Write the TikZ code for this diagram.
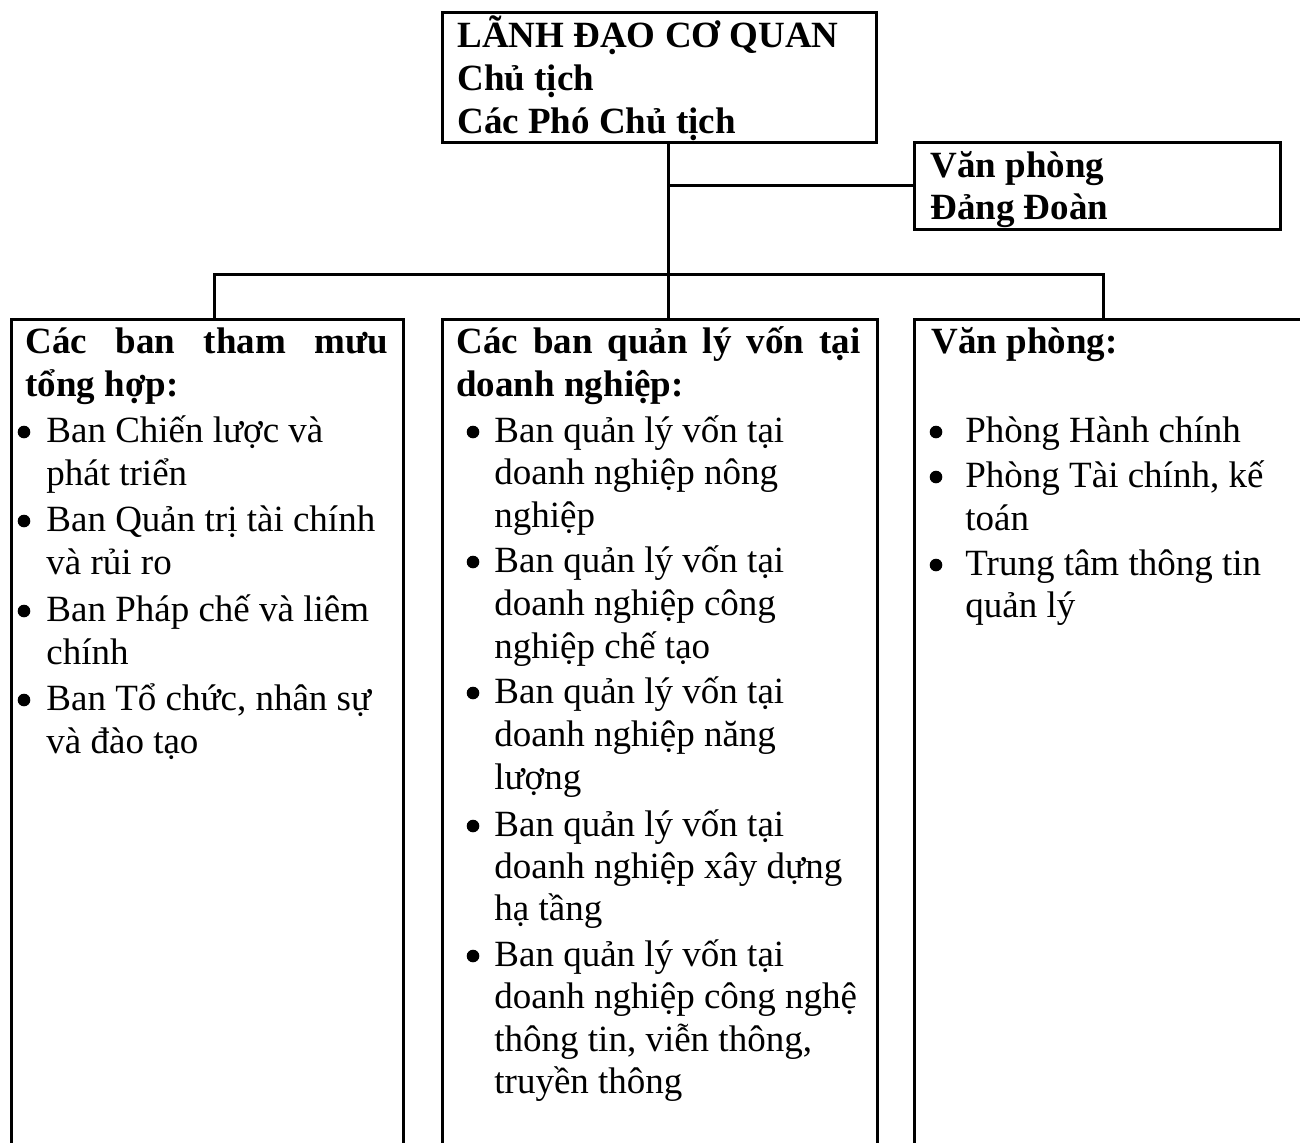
\documentclass[tikz,border=0pt]{standalone}
\usepackage{fontspec}
\setmainfont{Liberation Serif}
\usetikzlibrary{fit}
\begin{document}
\begin{tikzpicture}[x=0.5pt,y=-0.5pt,
  box/.style={draw, line width=1.5pt, inner sep=0pt, rectangle},
  wire/.style={line width=1.5pt},
  txt/.style={anchor=base west, inner sep=0pt, font=\fontsize{18.5pt}{21pt}\selectfont},
  hd/.style={anchor=base west, inner sep=0pt, font=\fontsize{18.5pt}{21pt}\selectfont\bfseries},
  bulletmark/.style={circle, fill=black, inner sep=0pt, minimum size=6.3pt}]
\useasboundingbox (0,0) rectangle (1300,1142);

% frames
\node[box, fit={(442,12) (876,142)}] (top) {};
\node[box, fit={(914,142) (1280,229)}] (dang) {};
\node[box, fit={(11,319) (403,1152)}] (left) {};
\node[box, fit={(442,319) (877,1152)}] (mid) {};
\node[box, fit={(914,319) (1322,1152)}] (right) {};

% leadership box
\node[hd] (t1) at (457,47) {LÃNH ĐẠO CƠ QUAN};
\node[hd] (t2) at (457,90) {Chủ tịch};
\node[hd] (t3) at (457,133) {Các Phó Chủ tịch};

% party office box
\node[hd] (d1) at (930,177) {Văn phòng};
\node[hd] (d2) at (930,219) {Đảng Đoàn};

% connectors
\coordinate (trunk) at (668,0);
\draw[wire] (top.south -| trunk) -- (mid.north -| trunk);
\draw[wire] (trunk |- dang.west) -- (dang.west);
\coordinate (busL) at (214,274);
\coordinate (busR) at (1103,274);
\draw[wire] (left.north -| busL) -- (busL) -- (busR) -- (right.north -| busR);

% left column
\node[hd] (lh1) at (25,353) {\makebox[181.5pt][s]{Các ban tham mưu}};
\node[hd] (lh2) at (25,396) {tổng hợp:};
\foreach \y [count=\i] in {442,531,621,710}
  \node[bulletmark] (lb\i) at (24,\y-10) {};
\foreach \y/\t [count=\i] in {442/Ban Chiến lược và, 485/phát triển,
    531/Ban Quản trị tài chính, 574/và rủi ro,
    621/Ban Pháp chế và liêm, 664/chính,
    710/{Ban Tổ chức, nhân sự}, 753/và đào tạo}
  \node[txt] (ll\i) at (46,\y) {\t};

% middle column
\node[hd] (mh1) at (456,353) {\makebox[202pt][s]{Các ban quản lý vốn tại}};
\node[hd] (mh2) at (456,396) {doanh nghiệp:};
\foreach \y [count=\i] in {442,572,703,836,966}
  \node[bulletmark] (mb\i) at (473,\y-10) {};
\foreach \y/\t [count=\i] in {442/Ban quản lý vốn tại, 484/doanh nghiệp nông, 527/nghiệp,
    572/Ban quản lý vốn tại, 615/doanh nghiệp công, 658/nghiệp chế tạo,
    703/Ban quản lý vốn tại, 746/doanh nghiệp năng, 789/lượng,
    836/Ban quản lý vốn tại, 878/doanh nghiệp xây dựng, 920/hạ tầng,
    966/Ban quản lý vốn tại, 1008/doanh nghiệp công nghệ,
    1051/{thông tin, viễn thông,}, 1093/truyền thông}
  \node[txt] (ml\i) at (494,\y) {\t};

% right column
\node[hd] (rh1) at (931,353) {Văn phòng:};
\foreach \y [count=\i] in {442,487,575}
  \node[bulletmark] (rb\i) at (936,\y-10) {};
\foreach \y/\t [count=\i] in {442/Phòng Hành chính, 487/{Phòng Tài chính, kế}, 530/toán,
    575/Trung tâm thông tin, 617/quản lý}
  \node[txt] (rl\i) at (965,\y) {\t};
\end{tikzpicture}
\end{document}
